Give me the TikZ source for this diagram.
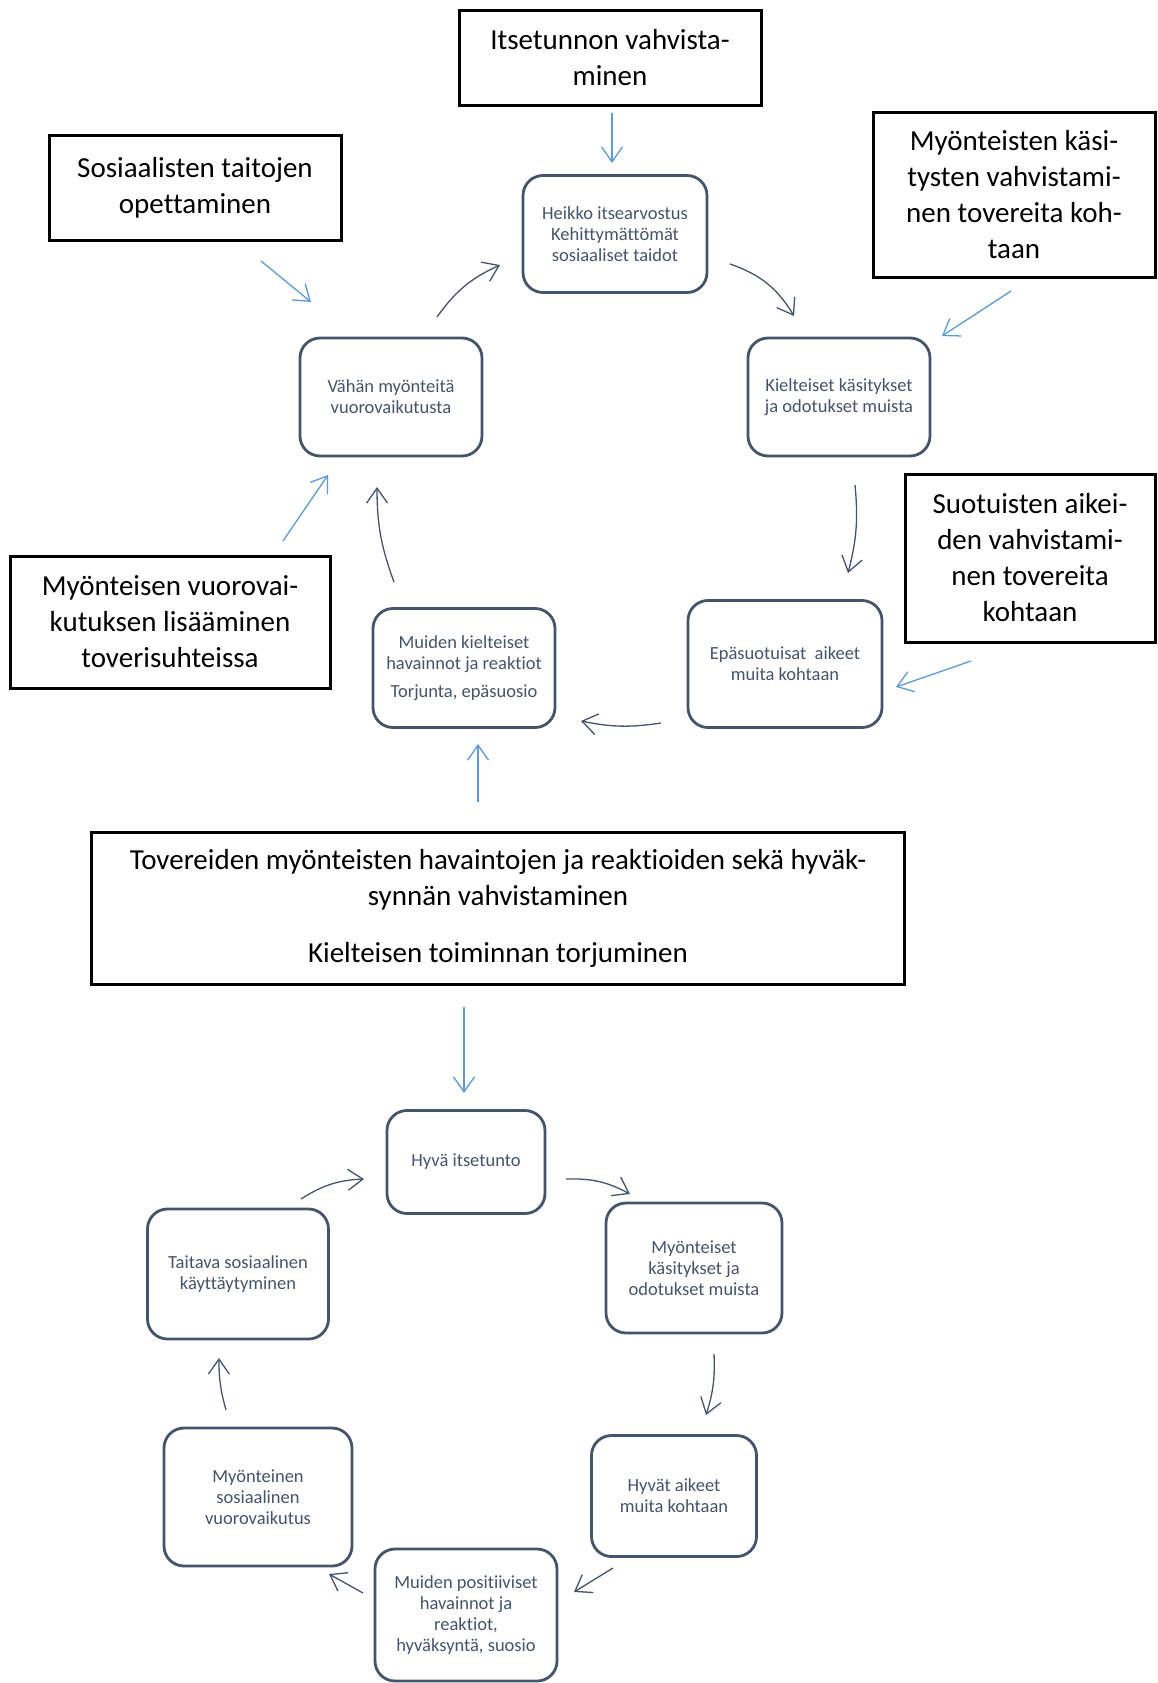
\documentclass[tikz,border=0pt]{standalone}
\usepackage{fontspec}
\setmainfont{Carlito}[Ligatures=NoCommon]
\usetikzlibrary{arrows.meta}
\definecolor{slate}{HTML}{44546A}
\definecolor{skyblue}{HTML}{5B9BD5}

\tikzstyle{bigbox} = [draw=black,line width=3pt,align=center,inner sep=0pt,font=\fontsize{29}{36}\selectfont]
\tikzstyle{cyclebox} = [draw=slate,line width=2.8pt,rounded corners=20pt,align=center,inner sep=0pt,text=slate,font=\fontsize{18.5}{21}\selectfont]
\tikzstyle{arrowdecorate} = [-{Straight Barb[length=15pt,width=21pt]},line width=1.3pt]
\tikzstyle{darkarrow} = [arrowdecorate,draw=slate]
\tikzstyle{bluearrow} = [arrowdecorate,draw=skyblue]

\begin{document}
\begin{tikzpicture}[x=1pt,y=-1pt]
    \useasboundingbox (0,0) rectangle (1158,1683);

    % boxes with the measures
    \foreach \nodename/\x/\y/\w/\h/\content in {
      itsetunto/610/58/302pt/95pt/{Itsetunnon vahvista-\\minen},
      taidot/195/188/292pt/104pt/{Sosiaalisten taitojen\\opettaminen},
      kasitykset/1014/195/282pt/164pt/{Myönteisten käsi-\\tysten vahvistami-\\nen tovereita koh-\\taan},
      aikeet/1030/558/250pt/168pt/{Suotuisten aikei-\\den vahvistami-\\nen tovereita\\kohtaan},
      lisaaminen/170/622/320pt/132pt/{Myönteisen vuorovai-\\kutuksen lisääminen\\toverisuhteissa},
      hyvaksynta/498/908/813pt/152pt/{Tovereiden myönteisten havaintojen ja reaktioiden sekä hyväk-\\synnän vahvistaminen\\[21pt]Kielteisen toiminnan torjuminen}}
    {
      \node[bigbox,minimum width=\w,minimum height=\h] (\nodename) at (\x,\y) {\content};
    }

    % negative cycle and positive cycle
    \foreach \nodename/\x/\y/\w/\h/\content in {
      heikko/615/234/184pt/117pt/{Heikko itsearvostus\\Kehittymättömät\\sosiaaliset taidot},
      kielteiset/839/397/182pt/118pt/{Kielteiset käsitykset\\ja odotukset muista},
      epasuotuisat/785/664/194pt/127pt/{Epäsuotuisat~ aikeet\\muita kohtaan},
      torjunta/464/668/182pt/119pt/{Muiden kielteiset\\havainnot ja reaktiot\\[7pt]Torjunta, epäsuosio},
      vahan/391/397/182pt/118pt/{Vähän myönteitä\\vuorovaikutusta},
      hyva/466/1162/158pt/103pt/{Hyvä itsetunto},
      myonteiset/694/1268/176pt/130pt/{Myönteiset\\käsitykset ja\\odotukset muista},
      hyvat/674/1496/165pt/121pt/{Hyvät aikeet\\muita kohtaan},
      suosio/466/1615/182pt/132pt/{Muiden positiiviset\\havainnot ja\\reaktiot,\\hyväksyntä, suosio},
      sosiaalinen/258/1497/188pt/138pt/{Myönteinen\\sosiaalinen\\vuorovaikutus},
      taitava/238/1274/181pt/130pt/{Taitava sosiaalinen\\käyttäytyminen}}
    {
      \node[cyclebox,minimum width=\w,minimum height=\h] (\nodename) at (\x,\y) {\content};
    }

    % free ends of the arrows
    \foreach \name/\x/\y in {
      p1s/437/317, p1e/500/265, p2s/730/264, p2e/794/316, p3s/855/485, p3e/848/573,
      p4s/661/723, p4e/581/721, p5s/394/582, p5e/377/487,
      q1s/301/1199, q1e/364/1179, q2s/566/1179, q2e/630/1194, q3s/714/1354, q3e/706/1415,
      q4s/613/1568, q4e/574/1592, q5s/363/1593, q5e/329/1574, q6s/226/1410, q6e/219/1358,
      b1s/612/113, b1e/612/163, b2s/261/261, b2e/311/302, b3s/1011/291, b3e/942/336,
      b4s/971/661, b4e/896/687, b5s/283/541, b5e/328/475, b6s/478/802, b6e/478/744,
      b7s/464/1007, b7e/464/1093}
    {
      \coordinate (\name) at (\x,\y);
    }

    %edges
    \path
    \foreach \startnode/\endnode/\angle in {
      p1s/p1e/15, p2s/p2e/20, p3s/p3e/10, p4s/p4e/10, p5s/p5e/10,
      q1s/q1e/15, q2s/q2e/15, q3s/q3e/10, q4s/q4e/0, q5s/q5e/0, q6s/q6e/8}
    {
      (\startnode) edge[darkarrow,bend left=\angle] (\endnode)
    };

    \path
    \foreach \startnode/\endnode in {
      b1s/b1e, b2s/b2e, b3s/b3e, b4s/b4e, b5s/b5e, b6s/b6e, b7s/b7e}
    {
      (\startnode) edge[bluearrow] (\endnode)
    };

\end{tikzpicture}
\end{document}
